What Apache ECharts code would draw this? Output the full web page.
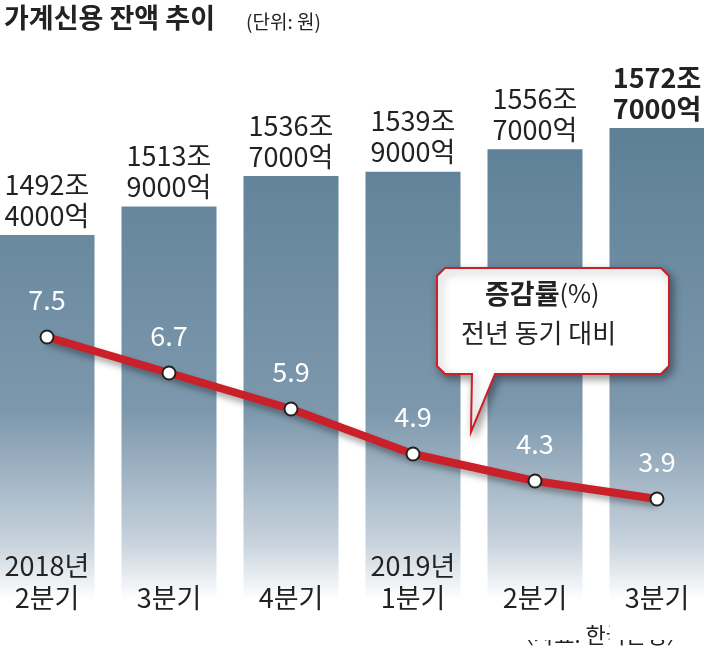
<!DOCTYPE html>
<html><head><meta charset="utf-8">
<script src="https://cdn.jsdelivr.net/npm/echarts@6/dist/echarts.min.js"></script>
<style>html,body{margin:0;padding:0;background:#fff;overflow:hidden}#c{position:absolute;left:-14px;top:0;width:732px;height:659px}</style>
</head><body><div id="c"></div>
<script>
const categories = ['2018년\n2분기','3분기','4분기','2019년\n1분기','2분기','3분기'];
const balanceValues = [1492.4, 1513.9, 1536.7, 1539.9, 1556.7, 1572.7];
const balanceLabels = ['1492조\n4000억','1513조\n9000억','1536조\n7000억','1539조\n9000억','1556조\n7000억','1572조\n7000억'];
const growthValues = [7.5, 6.7, 5.9, 4.9, 4.3, 3.9];

const FONT = '"Liberation Sans Narrow","Noto Sans CJK KR",sans-serif';
const O = 14;
const chart = echarts.init(document.getElementById('c'));
chart.setOption({
  animation:false,
  grid:{left:0,right:0,top:128,bottom:19},
  xAxis:{type:'category',data:categories,axisLine:{show:false},axisTick:{show:false},z:10,
    axisLabel:{inside:true,margin:26,color:'#222',fontSize:27,fontFamily:FONT,lineHeight:32,verticalAlign:'bottom'}},
  yAxis:[{type:'value',min:1188.7,max:1572.7,show:false},{type:'value',min:0.767,max:12.144,show:false}],
  series:[
    {type:'bar',yAxisIndex:0,barWidth:95,
     data:balanceValues.map((v,i)=>i===5?{value:v,label:{fontWeight:'bold'}}:v),
     itemStyle:{color:{type:'linear',x:0,y:130,x2:0,y2:600,global:true,
       colorStops:[{offset:0,color:'#5d8097'},{offset:0.6,color:'#7d98ad'},{offset:0.88,color:'#c8d3dd'},{offset:1,color:'#ffffff'}]}},
     label:{show:true,position:'top',distance:4,formatter:p=>balanceLabels[p.dataIndex],
       color:'#222',fontSize:27,lineHeight:31,fontFamily:FONT}},
    {type:'line',data:growthValues,yAxisIndex:1,symbol:'circle',symbolSize:13,
     lineStyle:{color:'#c9202a',width:8,shadowColor:'rgba(0,0,0,0.35)',shadowBlur:6,shadowOffsetY:4},
     itemStyle:{color:'#fff',borderColor:'#222',borderWidth:2},
     label:{show:true,position:'top',distance:16,color:'#fff',fontSize:27,fontFamily:FONT,formatter:p=>p.value.toFixed(1)},
     z:5}
  ],
  graphic:[
    {type:'text',left:4+O,top:4,style:{text:'가계신용 잔액 추이',font:'bold 27px "Noto Sans CJK KR"',fill:'#222'}},
    {type:'text',left:246+O,top:12,style:{text:'(단위: 원)',font:'19px "Noto Sans CJK KR"',fill:'#222'}},
    {type:'text',left:512+O,top:624,style:{text:'〈자료: 한국은행〉',font:'22px "Noto Sans CJK KR"',fill:'#222'}},
    {type:'polygon',z:10,shape:{points:[[445+O,268],[661+O,268],[669+O,276],[669+O,366],[661+O,374],[495+O,374],[471+O,432],[472+O,374],[445+O,374],[437+O,366],[437+O,276]]},
     style:{fill:'#fff',stroke:'#c9202a',lineWidth:2,shadowColor:'rgba(0,0,0,0.4)',shadowBlur:8,shadowOffsetX:3,shadowOffsetY:4}},
    {type:'text',z:11,left:485+O,top:280,style:{text:'{b|증감률}{n|(%)}',rich:{b:{font:'bold 27px "Noto Sans CJK KR"',fill:'#222'},n:{font:'25px "Noto Sans CJK KR"',fill:'#222'}}}},
    {type:'text',z:11,left:461+O,top:320,style:{text:'전년 동기 대비',font:'26px "Noto Sans CJK KR"',fill:'#222'}}
  ]
});
</script></body></html>
